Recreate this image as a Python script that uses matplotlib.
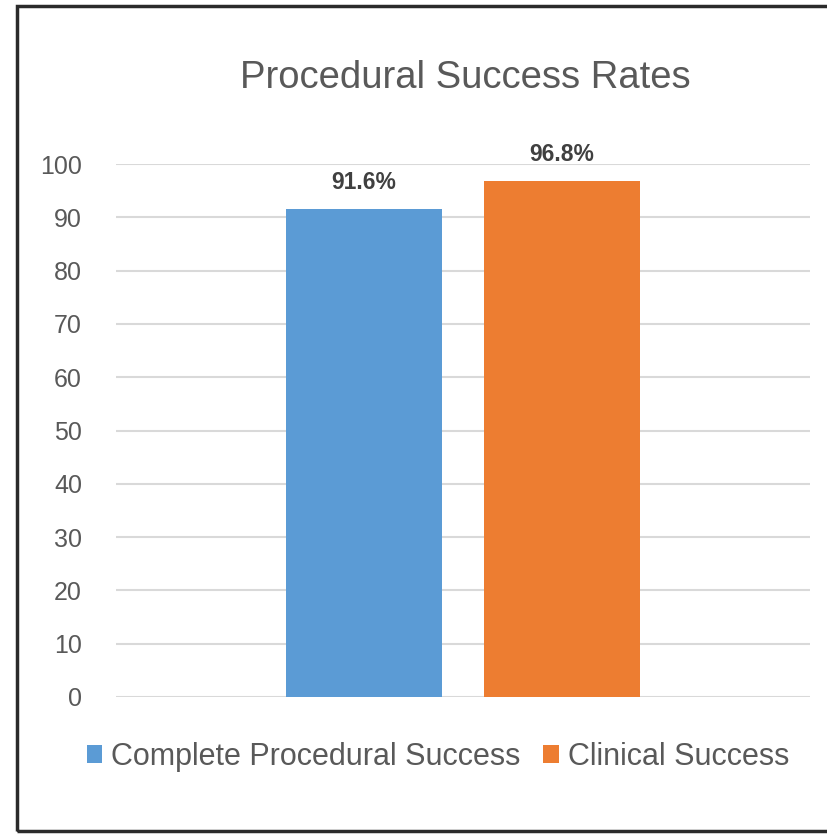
import matplotlib as mpl
mpl.use("Agg")
import matplotlib.pyplot as plt
from matplotlib.patches import Rectangle
import numpy as np

plt.rcParams["font.family"] = ["Liberation Sans", "DejaVu Sans"]

TITLE = "Procedural Success Rates"
series = ["Complete Procedural Success", "Clinical Success"]
values = [91.6, 96.8]
colors = ["#5B9BD5", "#ED7D31"]
yticks = list(range(0, 101, 10))
GREY = "#595959"

fig = plt.figure(figsize=(8.28, 8.34), dpi=100)
W, H = 828, 834

# outer chart frame (right edge runs off the picture)
fig.patches.append(Rectangle((17 / W, 1 - 831 / H), (840 - 17) / W, (831 - 6) / H,
                             transform=fig.transFigure, fill=False, edgecolor="#2b2b2b", lw=2.5))

ax = fig.add_axes([116 / W, 1 - 697 / H, (810 - 116) / W, (697 - 164) / H])
w = 0.45
offs = [-0.285, 0.285]
for s, v, c, o in zip(series, values, colors, offs):
    ax.bar(o, v, w, color=c, label=s, zorder=3)
    ax.text(o, v + 2.8, f"{v:.1f}%", ha="center", va="bottom", fontsize=16.5,
            fontweight="bold", color="#404040")

ax.set_xlim(-1, 1)
ax.set_ylim(0, 100)
ax.set_yticks(yticks)
ax.set_xticks([])
ax.yaxis.grid(True, color="#D9D9D9", lw=1.5, zorder=0)
ax.tick_params(axis="y", length=0, pad=24.5, labelsize=18, labelcolor=GREY)
for sp in ax.spines.values():
    sp.set_visible(False)

fig.text(465 / W, 1 - 78 / H, TITLE, ha="center", va="center", fontsize=27.5, color=GREY)

fig.legend(loc="center", bbox_to_anchor=(438 / W, 1 - 757 / H), ncol=2, frameon=False,
           fontsize=22, labelcolor=GREY, handlelength=0.5, handleheight=0.5,
           handletextpad=0.3, columnspacing=0.75)

fig.savefig("out.png", dpi=100)
